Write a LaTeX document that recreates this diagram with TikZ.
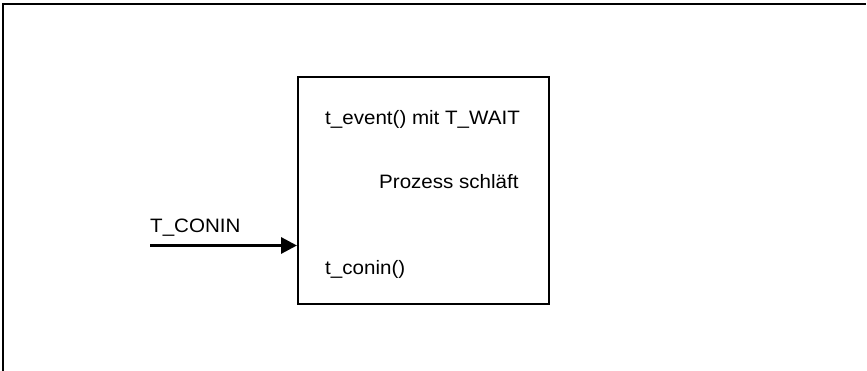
\documentclass[tikz,border=0pt]{standalone}
\usepackage{fontspec}
\setmainfont{Liberation Sans}[FakeStretch=1.06]
\usetikzlibrary{arrows.meta}
\begin{document}
\begin{tikzpicture}[x=1pt,y=-1pt,
  frame/.style={line width=2pt},
  label/.style={anchor=base west,inner sep=0pt,font=\fontsize{19.4}{23}\selectfont},
  signal/.style={line width=3.2pt,-{Triangle[length=16pt,width=16pt]}}]
  \useasboundingbox (0,0) rectangle (867,371);
  % outer frame: top and left edges only
  \draw[frame] (2,4) -- (866,4);
  \draw[frame] (3.3,3) -- (3.3,371);
  % process box
  \node[frame,draw,minimum width=251pt,minimum height=227pt,inner sep=0pt,anchor=north west]
    (proc) at (297,76) {};
  \node[label] (ev) at (325,124.5) {t\_event() mit T\_WAIT};
  \node[label] (sl) at (379,189) {Prozess schläft};
  \node[label] (ci) at (325,275) {t\_conin()};
  % incoming signal
  \coordinate (src) at (150,245.5);
  \draw[signal] (src) -- (src -| proc.west);
  \node[label] (sig) at (150,233) {T\_CONIN};
\end{tikzpicture}
\end{document}
